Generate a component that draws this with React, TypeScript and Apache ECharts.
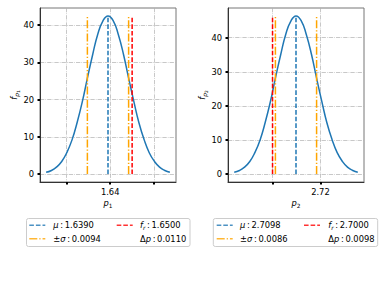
import React, { useEffect, useRef } from "react";
import * as echarts from "echarts";

// ---- data ----
const p1X = [1.6108, 1.6132, 1.6155, 1.6179, 1.6202, 1.6226, 1.6249, 1.6273, 1.6296, 1.632, 1.6343, 1.6367, 1.639, 1.6414, 1.6437, 1.6461, 1.6484, 1.6508, 1.6531, 1.6555, 1.6578, 1.6602, 1.6625, 1.6649, 1.6672];
const p1Y = [0.47, 0.97, 1.86, 3.38, 5.74, 9.18, 13.78, 19.43, 25.74, 32.03, 37.45, 41.13, 42.44, 41.13, 37.45, 32.03, 25.74, 19.43, 13.78, 9.18, 5.74, 3.38, 1.86, 0.97, 0.47];
const p2X = [2.684, 2.6862, 2.6883, 2.6905, 2.6926, 2.6948, 2.6969, 2.6991, 2.7012, 2.7034, 2.7055, 2.7077, 2.7098, 2.712, 2.7141, 2.7163, 2.7184, 2.7206, 2.7227, 2.7249, 2.727, 2.7292, 2.7313, 2.7335, 2.7356];
const p2Y = [0.52, 1.06, 2.04, 3.69, 6.28, 10.03, 15.06, 21.24, 28.14, 35.01, 40.94, 44.96, 46.39, 44.96, 40.94, 35.01, 28.14, 21.24, 15.06, 10.03, 6.28, 3.69, 2.04, 1.06, 0.52];

const muVals = [1.639, 2.7098];
const sigmaVals = [0.0094, 0.0086];
const frVals = [1.65, 2.7];
const dpVals = [0.011, 0.0098];
const peakVals = [42.44, 46.39];

const xTicks1 = [1.62, 1.64, 1.66];
const xLabels1 = [1.64];
const xTicks2 = [2.7, 2.72];
const xLabels2 = [2.72];
const yTicks = [0, 10, 20, 30, 40];

const xRanges = [[1.608, 1.67], [2.6814, 2.7382]];
const yRanges = [[-2.12, 44.56], [-2.32, 48.71]];

const FONT = "DejaVu Sans";
const FS = 8.33;
const BLUE = "#1f77b4";
const ORANGE = "#ffa500";
const RED = "#ff0000";
const DASHED = [4.6, 2];
const DASHDOT = [8, 2, 1.25, 2];
const GRIDDASH = [4.3, 1.1, 0.7, 1.1];
const LW = 1.5;

const rich = {
  n: { fontFamily: FONT, fontSize: FS, fill: "#000", lineHeight: 12 },
  i: { fontFamily: FONT, fontSize: FS, fontStyle: "italic", fill: "#000", lineHeight: 12 },
  s: { fontFamily: FONT, fontSize: 5.8, fontStyle: "italic", fill: "#000", lineHeight: 6, verticalAlign: "bottom" },
  sn: { fontFamily: FONT, fontSize: 5.8, fill: "#000", lineHeight: 6, verticalAlign: "bottom" },
  ss: { fontFamily: FONT, fontSize: 4.4, fill: "#000", lineHeight: 2, verticalAlign: "bottom" },
};

function fmt(v: number) {
  return v.toFixed(4);
}

export default function App() {
  const ref = useRef<HTMLDivElement>(null);
  useEffect(() => {
    if (!ref.current) return;
    const chart = echarts.init(ref.current, undefined, { renderer: "svg" });
    const grids = [
      { left: 40, top: 8, width: 136, height: 174 },
      { left: 228, top: 8, width: 136, height: 174 },
    ];
    const xTickSets = [xTicks1, xTicks2];
    const xLabelSets = [xLabels1, xLabels2];
    const curves = [
      p1X.map((x, k) => [x, p1Y[k]]),
      p2X.map((x, k) => [x, p2Y[k]]),
    ];
    const xAxes = [0, 1].map((i) => ({
      type: "value",
      gridIndex: i,
      min: xRanges[i][0],
      max: xRanges[i][1],
      minInterval: 0.02,
      maxInterval: 0.02,
      axisLine: { show: true, onZero: false, lineStyle: { color: "#333", width: 1 } },
      axisTick: { show: true, length: 2.5, customValues: xTickSets[i], lineStyle: { color: "#000", width: 2 } },
      axisLabel: {
        customValues: xLabelSets[i],
        margin: 6,
        fontSize: FS,
        fontFamily: FONT,
        color: "#000",
        formatter: (v: number) => (xLabelSets[i].some((t) => Math.abs(t - v) < 1e-6) ? v.toFixed(2) : ""),
      },
      splitLine: { show: true, lineStyle: { color: "#b0b0b0", width: 0.7, type: GRIDDASH } },
    }));
    const yAxes = [0, 1].map((i) => ({
      type: "value",
      gridIndex: i,
      min: yRanges[i][0],
      max: yRanges[i][1],
      minInterval: 10,
      maxInterval: 10,
      axisLine: { show: true, onZero: false, lineStyle: { color: "#333", width: 1 } },
      axisTick: { show: true, length: 2.5, customValues: yTicks, lineStyle: { color: "#000", width: 2 } },
      axisLabel: {
        customValues: yTicks,
        margin: 6,
        fontSize: FS,
        fontFamily: FONT,
        color: "#000",
        formatter: (v: number) => (yTicks.some((t) => Math.abs(t - v) < 1e-6) ? String(Math.round(v)) : ""),
      },
      splitLine: { show: true, lineStyle: { color: "#b0b0b0", width: 0.7, type: GRIDDASH } },
    }));

    const series: any[] = [];
    [0, 1].forEach((i) => {
      const mu = muVals[i];
      const sg = sigmaVals[i];
      const pk = peakVals[i];
      series.push({
        type: "line",
        xAxisIndex: i,
        yAxisIndex: i,
        data: curves[i],
        smooth: true,
        showSymbol: false,
        lineStyle: { color: BLUE, width: LW },
        z: 3,
      });
      const vline = (x: number, color: string, dash: number[], z: number) => ({
        type: "line",
        xAxisIndex: i,
        yAxisIndex: i,
        data: [[x, 0], [x, pk]],
        showSymbol: false,
        lineStyle: { color, width: LW, type: dash },
        z,
      });
      series.push(vline(mu, BLUE, DASHED, 4));
      series.push(vline(mu - sg, ORANGE, DASHDOT, 5));
      series.push(vline(mu + sg, ORANGE, DASHDOT, 5));
      series.push(vline(frVals[i], RED, DASHED, 6));
    });

    const legend = (i: number, bx: number, bw: number, h1: number, t1: number, h2: number, t2: number) => {
      const r1 = 225.3;
      const r2 = 238.7;
      const txt = (x: number, y: number, text: string) => ({
        type: "text",
        x,
        y,
        style: { text, rich, fontFamily: FONT, fontSize: FS, verticalAlign: "middle", align: "left" },
      });
      const ln = (x: number, y: number, color: string, dash: number[]) => ({
        type: "line",
        shape: { x1: x, y1: y, x2: x + 16, y2: y },
        style: { stroke: color, lineWidth: LW, lineDash: dash, opacity: 0.8 },
      });
      return {
        type: "group",
        children: [
          {
            type: "rect",
            shape: { x: bx, y: 218.5, width: bw, height: 28, r: 2 },
            style: { fill: "#fff", stroke: "#cccccc", lineWidth: 1 },
          },
          ln(h1, r1, BLUE, DASHED),
          txt(t1, r1, `{i|μ}{n|\u2009:\u2009${fmt(muVals[i])}}`),
          ln(h2, r1, RED, DASHED),
          txt(t2, r1, `{i|f}{s|r}{n|\u2009:\u2009${fmt(frVals[i])}}`),
          ln(h1, r2, ORANGE, DASHDOT),
          txt(t1, r2, `{n|±}{i|σ}{n|\u2009:\u2009${fmt(sigmaVals[i])}}`),
          txt(t2, r2, `{n|Δ}{i|p}{n|\u2009:\u2009${fmt(dpVals[i])}}`),
        ],
      };
    };

    const graphic: any[] = [
      { type: "text", x: 108, y: 203, style: { text: "{i|p}{sn|1}", rich, align: "center", verticalAlign: "middle" } },
      { type: "text", x: 296, y: 203, style: { text: "{i|p}{sn|2}", rich, align: "center", verticalAlign: "middle" } },
      { type: "text", x: 14, y: 95, rotation: Math.PI / 2, style: { text: "{i|f}{s|p}{ss|1}", rich, align: "center", verticalAlign: "middle" } },
      { type: "text", x: 202, y: 95, rotation: Math.PI / 2, style: { text: "{i|f}{s|p}{ss|2}", rich, align: "center", verticalAlign: "middle" } },
      legend(0, 26.5, 163.5, 29.3, 53.3, 116.7, 140),
      legend(1, 213.3, 164.4, 216.7, 240, 304, 328.3),
    ];

    chart.setOption({
      animation: false,
      backgroundColor: "#fff",
      grid: grids.map((g) => ({ ...g, show: true, borderColor: "#777", borderWidth: 1, backgroundColor: "transparent" })),
      xAxis: xAxes,
      yAxis: yAxes,
      series,
      graphic,
    });
    return () => chart.dispose();
  }, []);
  return <div ref={ref} style={{ width: 384, height: 288, position: "absolute", left: 0, top: 0 }} />;
}
